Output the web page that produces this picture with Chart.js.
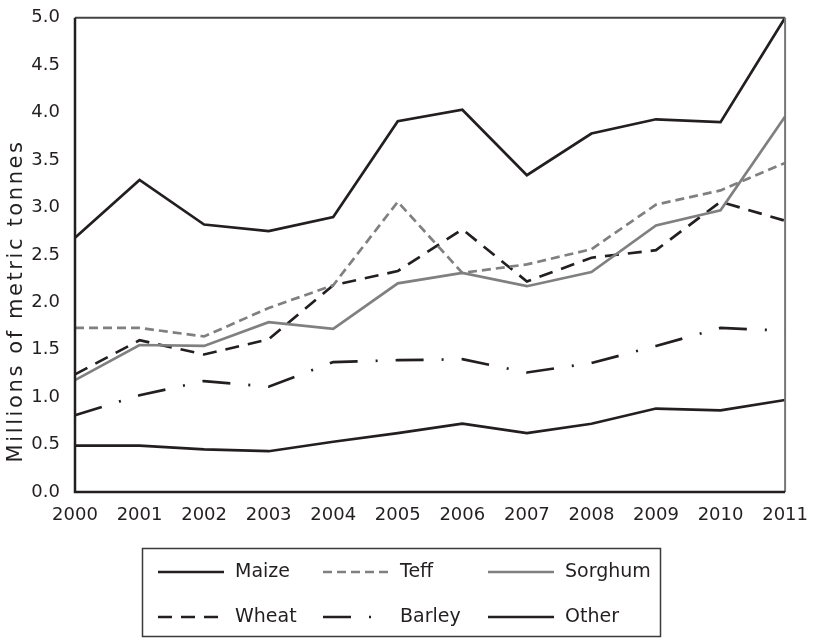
<!DOCTYPE html>
<html>
<head>
<meta charset="utf-8">
<script src="https://cdn.jsdelivr.net/npm/chart.js@4.4.1/dist/chart.umd.min.js"></script>
<style>
  html, body { margin: 0; padding: 0; background: #fff; }
  #wrap { width: 813px; height: 638px; }
</style>
</head>
<body>
<div id="wrap"><canvas id="grafico" width="813" height="638"></canvas></div>
<script>
// anos e valores (milhões de toneladas)
var anos = ['2000','2001','2002','2003','2004','2005','2006','2007','2008','2009','2010','2011'];
var maize   = [2.68, 3.29, 2.82, 2.75, 2.90, 3.91, 4.03, 3.34, 3.78, 3.93, 3.90, 5.00];
var teff    = [1.73, 1.73, 1.64, 1.94, 2.18, 3.06, 2.31, 2.40, 2.56, 3.03, 3.18, 3.47];
var sorghum = [1.18, 1.55, 1.54, 1.79, 1.72, 2.20, 2.31, 2.17, 2.32, 2.81, 2.97, 3.96];
var wheat   = [1.24, 1.60, 1.45, 1.61, 2.18, 2.33, 2.77, 2.22, 2.47, 2.55, 3.06, 2.86];
var barley  = [0.81, 1.02, 1.17, 1.11, 1.37, 1.39, 1.40, 1.26, 1.36, 1.54, 1.73, 1.70];
var other   = [0.49, 0.49, 0.45, 0.43, 0.53, 0.62, 0.72, 0.62, 0.72, 0.88, 0.86, 0.97];
var yTicks  = [0, 0.5, 1, 1.5, 2, 2.5, 3, 3.5, 4, 4.5, 5];

var preto = '#231f20';
var cinza = '#808080';
var fonte = "'DejaVu Sans', sans-serif";

function serie(nome, dados, cor, tracejado) {
    return {
        label: nome,
        data: dados,
        borderColor: cor,
        borderWidth: 2.7,
        borderDash: tracejado,
        pointRadius: 0,
        tension: 0,
        fill: false
    };
}

// legenda desenhada no canvas, 3 colunas x 2 linhas dentro de uma caixa
var legendaCaixa = {
    id: 'legendaCaixa',
    afterDraw: function(chart) {
        var ctx = chart.ctx;
        var colunas = [158, 323, 488];
        var linhas = [572, 617];
        ctx.save();
        ctx.strokeStyle = '#3a3a3a';
        ctx.lineWidth = 1.5;
        ctx.strokeRect(142.5, 548.5, 518, 88);
        chart.data.datasets.forEach(function(ds, i) {
            var x = colunas[i % 3];
            var y = linhas[Math.floor(i / 3)];
            ctx.beginPath();
            ctx.setLineDash(ds.borderDash || []);
            ctx.strokeStyle = ds.borderColor;
            ctx.lineWidth = ds.borderWidth;
            ctx.moveTo(x, y);
            ctx.lineTo(x + 66, y);
            ctx.stroke();
            ctx.setLineDash([]);
            ctx.fillStyle = preto;
            ctx.font = '19px ' + fonte;
            ctx.textBaseline = 'middle';
            ctx.fillText(ds.label, x + 77, y);
        });
        ctx.restore();
    }
};

// moldura da area do grafico
var moldura = {
    id: 'moldura',
    afterDatasetsDraw: function(chart) {
        var a = chart.chartArea;
        var ctx = chart.ctx;
        ctx.save();
        ctx.lineWidth = 2;
        ctx.strokeStyle = '#444';
        ctx.beginPath(); ctx.moveTo(a.left, a.top); ctx.lineTo(a.right, a.top); ctx.stroke();
        ctx.strokeStyle = '#777';
        ctx.beginPath(); ctx.moveTo(a.right, a.top); ctx.lineTo(a.right, a.bottom); ctx.stroke();
        ctx.strokeStyle = preto;
        ctx.lineWidth = 2.5;
        ctx.beginPath(); ctx.moveTo(a.left, a.top); ctx.lineTo(a.left, a.bottom); ctx.lineTo(a.right, a.bottom); ctx.stroke();
        ctx.restore();
    }
};

var ctx = document.getElementById('grafico').getContext('2d');
var chart = new Chart(ctx, {
    type: 'line',
    data: {
        labels: anos,
        datasets: [
            serie('Maize', maize, preto, []),
            serie('Teff', teff, cinza, [9, 5]),
            serie('Sorghum', sorghum, cinza, []),
            serie('Wheat', wheat, preto, [14, 9]),
            serie('Barley', barley, preto, [28, 18, 2, 18]),
            serie('Other', other, preto, [])
        ]
    },
    options: {
        responsive: false,
        devicePixelRatio: 1,
        animation: false,
        layout: { padding: { top: 15, right: 27, left: 0, bottom: 0 } },
        plugins: {
            legend: { display: false },
            tooltip: { enabled: false }
        },
        scales: {
            x: {
                offset: false,
                grid: { display: false },
                border: { display: false },
                ticks: {
                    color: preto,
                    font: { family: fonte, size: 18 },
                    padding: 5,
                    maxRotation: 0,
                    autoSkip: false
                },
                afterFit: function(scale) { scale.height = 146; }
            },
            y: {
                min: 0,
                max: 5,
                grid: { display: false },
                border: { display: false },
                afterBuildTicks: function(scale) {
                    scale.ticks = yTicks.map(function(v) { return { value: v }; });
                },
                ticks: {
                    color: preto,
                    font: { family: fonte, size: 18 },
                    padding: 7,
                    callback: function(v) { return Number(v).toFixed(1); }
                },
                title: {
                    display: true,
                    text: 'Millions of metric tonnes',
                    color: preto,
                    font: { family: fonte, size: 21 },
                    padding: { top: 4, bottom: 2 }
                },
                afterFit: function(scale) {
                    scale.width = 75;
                    // titulo do eixo mais espaçado e mais abaixo, como no original
                    if (!scale._espacado) {
                        var original = scale.drawTitle;
                        scale.drawTitle = function() {
                            this.ctx.save();
                            this.ctx.translate(0, 46);
                            this.ctx.letterSpacing = '2.6px';
                            original.apply(this, arguments);
                            this.ctx.restore();
                        };
                        scale._espacado = true;
                    }
                }
            }
        }
    },
    plugins: [moldura, legendaCaixa]
});
</script>
</body>
</html>
